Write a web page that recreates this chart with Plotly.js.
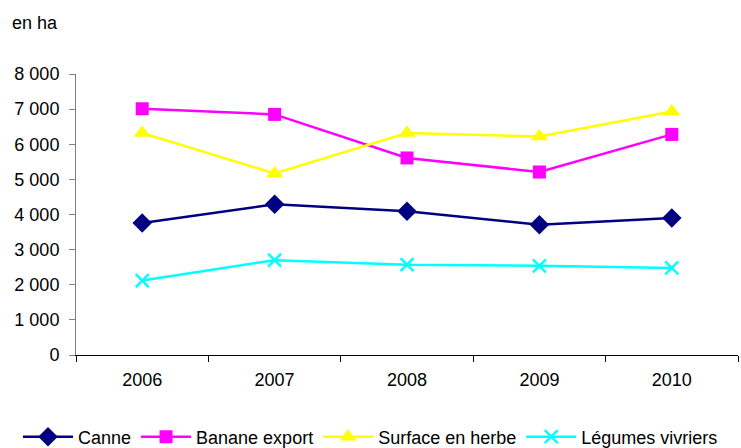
<!DOCTYPE html>
<html>
<head>
<meta charset="utf-8">
<script src="https://cdn.plot.ly/plotly-3.0.1.min.js"></script>
<style>
html,body{margin:0;padding:0;background:#fff;}
#chart{width:741px;height:448px;}
</style>
</head>
<body>
<div id="chart"></div>
<script>
const years = ['2006', '2007', '2008', '2009', '2010'];
const canne = [3760, 4290, 4090, 3710, 3900];
const bananeExport = [7010, 6850, 5610, 5210, 6280];
const surfaceEnHerbe = [6320, 5170, 6320, 6220, 6930];
const legumesVivriers = [2120, 2700, 2570, 2540, 2480];
const seriesNames = ['Canne', 'Banane export', 'Surface en herbe', 'Légumes vivriers'];
const yTicks = [0, 1000, 2000, 3000, 4000, 5000, 6000, 7000, 8000];

const FONT = 'Liberation Sans, Arial, sans-serif';
const FS = 18;

const traces = [
  {x: years, y: canne, name: seriesNames[0], type: 'scatter', mode: 'lines+markers',
   line: {color: '#000080', width: 2.5},
   marker: {symbol: 'diamond', size: 15, color: '#000080'}},
  {x: years, y: bananeExport, name: seriesNames[1], type: 'scatter', mode: 'lines+markers',
   line: {color: '#FF00FF', width: 2.5},
   marker: {symbol: 'square', size: 13, color: '#FF00FF'}},
  {x: years, y: surfaceEnHerbe, name: seriesNames[2], type: 'scatter', mode: 'lines+markers',
   line: {color: '#FFFF00', width: 2.5},
   marker: {symbol: 'triangle-up', size: 15, color: '#FFFF00'}},
  {x: years, y: legumesVivriers, name: seriesNames[3], type: 'scatter', mode: 'lines+markers',
   line: {color: '#00FFFF', width: 2.5},
   marker: {symbol: 'x-thin', size: 13, color: '#00FFFF', line: {color: '#00FFFF', width: 2.5}}}
];

const layout = {
  width: 741, height: 448,
  margin: {l: 76, r: 3, t: 74, b: 93, pad: 0, autoexpand: false},
  paper_bgcolor: '#fff', plot_bgcolor: '#fff',
  font: {family: FONT, size: FS, color: '#000'},
  separators: ', ',
  showlegend: true,
  legend: {orientation: 'h', x: (18 - 76) / 662, xanchor: 'left', y: -82 / 281, yanchor: 'middle',
           font: {family: FONT, size: FS, color: '#000'}, itemwidth: 50, tracegroupgap: 0,
           bgcolor: 'rgba(0,0,0,0)'},
  xaxis: {type: 'category', range: [-0.5, 4.5], tickson: 'boundaries', ticks: 'outside',
          ticklen: 6, tickcolor: '#000', showline: true, linecolor: '#000', linewidth: 1,
          showgrid: false, zeroline: false, ticklabelstandoff: 8, automargin: false,
          tickfont: {family: FONT, size: FS, color: '#000'}},
  yaxis: {range: [0, 8000], tickmode: 'array', tickvals: yTicks, tickformat: ',d',
          ticks: 'outside', ticklen: 6, tickcolor: '#808080', showline: true, linecolor: '#808080',
          linewidth: 1, showgrid: false, zeroline: false, ticklabelstandoff: 6, automargin: false,
          tickfont: {family: FONT, size: FS, color: '#000'}},
  annotations: [{text: 'en ha', xref: 'paper', yref: 'paper', x: -66/662, y: 1 + 51/281,
                 xanchor: 'left', yanchor: 'middle', showarrow: false,
                 font: {family: FONT, size: FS, color: '#000'}}]
};

Plotly.newPlot('chart', traces, layout, {displayModeBar: false, staticPlot: true});
</script>
</body>
</html>
